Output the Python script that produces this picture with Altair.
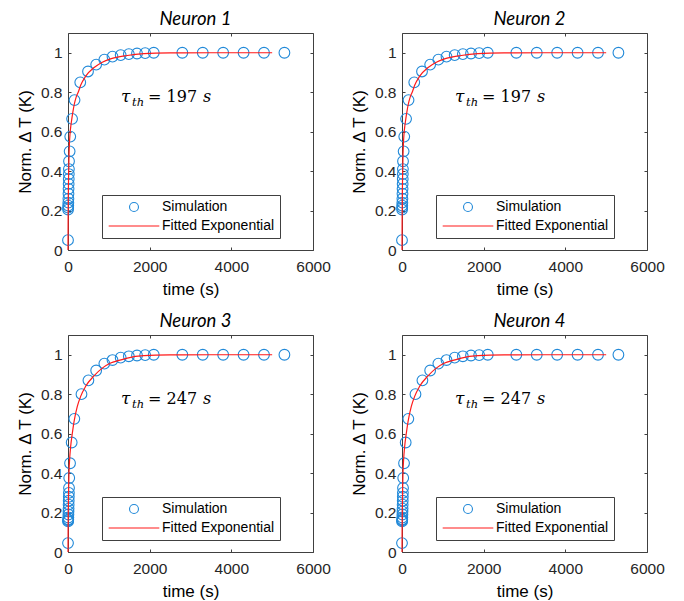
import altair as alt
import pandas as pd

# ---------------- data ----------------
panel_titles = ["Neuron 1", "Neuron 2", "Neuron 3", "Neuron 4"]
tau_values = ["197", "197", "247", "247"]

# Neurons 1 & 2 (tau = 197 s)
sim_time_a = [0, 2, 4, 6, 8, 10, 12, 14, 16, 18, 20, 22, 25, 40, 55, 100, 160, 300,
              490, 690, 890, 1090, 1290, 1490, 1690, 1890, 2100,
              2800, 3300, 3800, 4300, 4800, 5300]
sim_norm_a = [0.05, 0.205, 0.215, 0.225, 0.24, 0.26, 0.285, 0.31, 0.335, 0.36, 0.385, 0.41,
              0.45, 0.50, 0.575, 0.665, 0.76, 0.85,
              0.905, 0.94, 0.965, 0.98, 0.988, 0.993, 0.996, 0.998, 1.0,
              1.0, 1.0, 1.0, 1.0, 1.0, 1.0]
fit_time_a = [0, 3, 8, 15, 25, 35, 50, 70, 90, 120, 150, 200, 250, 310, 430, 640, 840,
              1040, 1450, 1860, 2500, 3500, 5000]
fit_norm_a = [0, 0.15, 0.28, 0.38, 0.48, 0.54, 0.59, 0.63, 0.66, 0.70, 0.735, 0.775, 0.80,
              0.835, 0.88, 0.925, 0.952, 0.969, 0.986, 0.995, 0.999, 1.0, 1.0]

# Neurons 3 & 4 (tau = 247 s)
sim_time_b = [0, 2, 4, 6, 8, 10, 12, 14, 16, 18, 20, 22, 25, 30, 50, 90, 155, 330,
              500, 690, 890, 1090, 1290, 1490, 1690, 1890, 2100,
              2800, 3300, 3800, 4300, 4800, 5300]
sim_norm_b = [0.045, 0.155, 0.16, 0.165, 0.175, 0.19, 0.205, 0.22, 0.24, 0.26, 0.28, 0.30,
              0.325, 0.375, 0.45, 0.555, 0.675, 0.80,
              0.87, 0.92, 0.955, 0.973, 0.985, 0.992, 0.996, 0.998, 1.0,
              1.0, 1.0, 1.0, 1.0, 1.0, 1.0]
fit_time_b = [0, 3, 8, 15, 24, 40, 65, 106, 147, 228, 310, 432, 636, 840, 1044, 1249,
              1452, 1860, 2500, 3500, 5000]
fit_norm_b = [0, 0.12, 0.22, 0.31, 0.40, 0.47, 0.535, 0.602, 0.66, 0.738, 0.789, 0.84,
              0.893, 0.932, 0.958, 0.971, 0.983, 0.995, 0.999, 1.0, 1.0]

# annotation anchor (data coordinates)
ann_time = [1300]
ann_norm = [0.75]

x_ticks = [0, 2000, 4000, 6000]
y_ticks = [0, 0.2, 0.4, 0.6, 0.8, 1.0]
series_names = ["Simulation", "Fitted Exponential"]

# ---------------- styling ----------------
BLUE = "#2189d8"
RED = "#ff1a1a"
FRAME = "#404040"
TXT = "#262626"
SANS = "Liberation Sans"
SERIF = "DejaVu Serif"

W, H = 245, 217


def make_legend():
    return alt.Legend(
        orient="none", legendX=34, legendY=162, title=None,
        padding=5, strokeColor=FRAME, fillColor="white",
        symbolOffset=20, labelOffset=21, rowPadding=5,
        labelFont=SANS, labelFontSize=14, labelColor="black",
        symbolSize=80, symbolStrokeWidth=1.1,
    )


def panel(title, t_sim, v_sim, t_fit, v_fit, tau):
    sim = pd.DataFrame({"t": t_sim, "v": v_sim, "series": series_names[0]})
    fit = pd.DataFrame({"t": t_fit, "v": v_fit, "series": series_names[1]})
    ann = pd.DataFrame({"t": ann_time, "v": ann_norm, "tau": [tau]})

    xs = alt.Scale(domain=[0, 6000], nice=False, zero=False)
    ys = alt.Scale(domain=[0, 1.1], nice=False, zero=False)

    color = alt.Color("series:N",
                      scale=alt.Scale(domain=series_names, range=[BLUE, RED]),
                      legend=make_legend())
    shape = alt.Shape("series:N",
                      scale=alt.Scale(domain=series_names, range=["circle", "M-5.66,0H5.66"]),
                      legend=make_legend())

    common_ax = dict(grid=False, domain=False, offset=-3, tickSize=3, tickColor=FRAME,
                     tickWidth=1, labelFlush=False, labelOverlap=False)
    bottom = alt.Axis(orient="bottom", values=x_ticks, format="d", labelPadding=9,
                      labelFont=SANS, labelFontSize=15.5, labelColor=TXT,
                      title="time (s)", titleFont=SANS, titleFontSize=17,
                      titleFontWeight="normal", titleColor="black", titlePadding=7,
                      **common_ax)
    left = alt.Axis(orient="left", values=y_ticks, format="~g", labelPadding=6,
                    labelFont=SANS, labelFontSize=15.5, labelColor=TXT,
                    title="Norm. \u0394 T (K)", titleFont=SANS, titleFontSize=17,
                    titleFontWeight="normal", titleColor="black", titlePadding=6,
                    **common_ax)
    top = alt.Axis(orient="top", values=x_ticks, labels=False, title=None, **common_ax)
    right = alt.Axis(orient="right", values=y_ticks, labels=False, title=None, **common_ax)

    pts = alt.Chart(sim).mark_point(filled=False, size=115, strokeWidth=1.1, opacity=1).encode(
        x=alt.X("t:Q", scale=xs, axis=bottom),
        y=alt.Y("v:Q", scale=ys, axis=left),
        color=color, shape=shape,
    )
    line = alt.Chart(fit).mark_line(strokeWidth=1.2, interpolate="monotone").encode(
        x=alt.X("t:Q", scale=xs, axis=top),
        y=alt.Y("v:Q", scale=ys, axis=right),
        color=color,
    )

    ax = alt.X("t:Q", scale=xs, axis=None)
    ay = alt.Y("v:Q", scale=ys, axis=None)
    tau_sym = alt.Chart(ann).mark_text(text="\u03c4", align="left", baseline="alphabetic",
                                        font=SERIF, fontStyle="italic", fontSize=17,
                                        color="black").encode(x=ax, y=ay)
    sub = alt.Chart(ann).mark_text(text="th", align="left", baseline="alphabetic",
                                   font=SERIF, fontStyle="italic", fontSize=11.5,
                                   dx=11, dy=4, color="black").encode(x=ax, y=ay)
    eq = alt.Chart(ann).mark_text(align="left", baseline="alphabetic", font=SERIF,
                                  fontSize=16, dx=27, color="black").encode(
        x=ax, y=ay, text=alt.Text("eqtext:N")
    ).transform_calculate(eqtext="'= ' + datum.tau")
    unit = alt.Chart(ann).mark_text(text="s", align="left", baseline="alphabetic",
                                    font=SERIF, fontStyle="italic", fontSize=16,
                                    dx=82, color="black").encode(x=ax, y=ay)

    return alt.layer(pts, line, tau_sym, sub, eq, unit).resolve_axis(
        x="independent", y="independent"
    ).properties(
        width=W, height=H,
        title=alt.TitleParams(title, font="Lato", fontStyle="italic", fontWeight="normal",
                              fontSize=18.5, color="black", offset=4, anchor="middle", dx=5),
    )


panels = [
    panel(panel_titles[0], sim_time_a, sim_norm_a, fit_time_a, fit_norm_a, tau_values[0]),
    panel(panel_titles[1], sim_time_a, sim_norm_a, fit_time_a, fit_norm_a, tau_values[1]),
    panel(panel_titles[2], sim_time_b, sim_norm_b, fit_time_b, fit_norm_b, tau_values[2]),
    panel(panel_titles[3], sim_time_b, sim_norm_b, fit_time_b, fit_norm_b, tau_values[3]),
]

chart = alt.concat(*panels, columns=2, spacing={"row": 85, "column": 89}, bounds="flush").resolve_scale(
    color="independent", shape="independent"
).resolve_legend(
    color="independent", shape="independent"
).configure_view(
    stroke=FRAME, strokeWidth=1
).properties(
    background="white", padding={"left": 7, "top": 1, "right": 5, "bottom": 5}
)

chart.save("out.html", embed_options={"renderer": "svg", "actions": False})
